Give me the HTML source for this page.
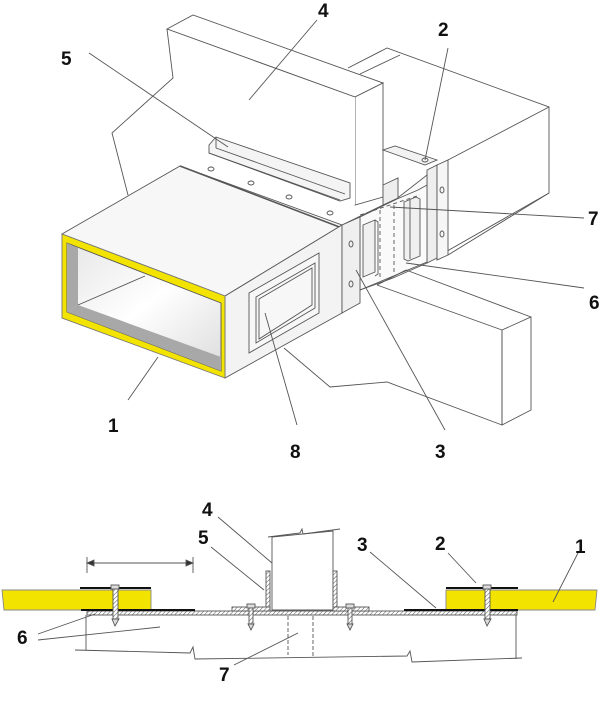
<!DOCTYPE html>
<html><head><meta charset="utf-8"><style>
html,body{margin:0;padding:0;background:#fff;}
svg{display:block;}
text{font-family:"Liberation Sans",Arial,sans-serif;font-weight:bold;font-size:19px;fill:#111;}
</style></head><body>
<svg width="606" height="712" viewBox="0 0 606 712" xmlns="http://www.w3.org/2000/svg">
<defs>
<linearGradient id="inner" x1="0" y1="0" x2="1" y2="1">
<stop offset="0" stop-color="#e6e6e6"/><stop offset="0.5" stop-color="#ffffff"/><stop offset="1" stop-color="#dcdcdc"/>
</linearGradient>
<pattern id="hatch" width="3" height="3" patternUnits="userSpaceOnUse" patternTransform="rotate(45)">
<rect width="3" height="3" fill="#fff"/><line x1="0" y1="0" x2="0" y2="3" stroke="#555" stroke-width="1"/>
</pattern>
</defs>
<g stroke="#555" stroke-width="0.9" fill="none">
<!-- upper back wall -->
<polyline points="348,68 387,48 549,107 549,193 435,258"/>
<line x1="360" y1="74" x2="400" y2="55"/>
<!-- wall 4 slab -->
<polygon points="167,29 193,15 383,83 355,97" fill="#fff"/>
<polygon points="355,97 383,83 383,197 355,205" fill="#fff"/>
<polygon points="167,29 355,97 355,205 216,150" fill="#fff" stroke="none"/>
<line x1="167" y1="29" x2="355" y2="97"/>
<polyline points="167,29 173,78 112,133 128,195"/>
<!-- angle 5 on top -->
<polygon points="216,137 350,183 350,198 340,201 209,153 209,145" fill="#f4f4f4"/>
<line x1="216" y1="137" x2="216" y2="148"/>
<line x1="216" y1="148" x2="345" y2="194"/>
<line x1="209" y1="153" x2="340" y2="200"/>
<!-- right duct section beyond wall -->
<polygon points="383,150 425,165 437,160 395,146" fill="#f2f2f2"/>
<polygon points="427,170 437,165 437,258 427,263" fill="#eee"/>
<polygon points="437,165 448,160 448,255 437,260" fill="#f6f6f6"/>
<ellipse cx="442" cy="190" rx="2" ry="3"/>
<ellipse cx="442" cy="234" rx="2" ry="3"/>
<ellipse cx="425" cy="160" rx="3" ry="2"/>
<line x1="448" y1="160" x2="549" y2="107"/>
<line x1="448" y1="255" x2="549" y2="193"/>
<!-- middle duct between -->
<polygon points="360,217 395,200 427,175 427,263 393,278 360,290" fill="#fafafa"/>
<polyline points="342,225 383,205 418,190 427,185"/>
<polygon points="383,185 398,178 398,198 383,205" fill="#eee"/>
<polygon points="363,225 375,220 375,272 363,277" fill="#f0f0f0"/>
<polyline points="375,220 378,222 378,274 375,276"/>
<polygon points="404,202 416,197 420,199 420,256 408,261 404,259" fill="#f0f0f0"/>
<line x1="410" y1="200" x2="410" y2="259"/>
<line x1="380" y1="210" x2="380" y2="278" stroke-dasharray="4,3"/>
<line x1="394" y1="205" x2="394" y2="272" stroke-dasharray="4,3"/>
<line x1="360" y1="215" x2="420" y2="195" stroke-dasharray="4,3"/>
<line x1="360" y1="290" x2="427" y2="262"/>
<!-- lower wall -->
<polyline points="377,285 406,270"/>
<line x1="377" y1="285" x2="502" y2="330"/>
<line x1="406" y1="270" x2="531" y2="317"/>
<polygon points="502,330 531,317 531,410 502,425" fill="#fff"/>
<line x1="502" y1="330" x2="502" y2="425"/>
<polyline points="284,348 330,387 387,382 502,425"/>
<!-- main box -->
<polygon points="62,234 180,166 342,225 225,296" fill="#f7f7f7"/>
<line x1="180" y1="166" x2="342" y2="228" stroke-width="1.6"/>
<polygon points="225,296 342,225 342,313 225,378" fill="#f3f3f3"/>
<polygon points="342,225 360,217 360,303 342,313" fill="#efefef"/>
<ellipse cx="351" cy="244" rx="2" ry="3"/>
<ellipse cx="351" cy="284" rx="2" ry="3"/>
<ellipse cx="211" cy="169" rx="3" ry="2"/>
<ellipse cx="251" cy="183" rx="3" ry="2"/>
<ellipse cx="289" cy="197" rx="3" ry="2"/>
<ellipse cx="330" cy="213" rx="3" ry="2"/>
<!-- door 8 -->
<polygon points="249,293 319,253 319,313 249,353" fill="#f7f7f7"/>
<polygon points="256,297 315,263 315,308 256,343"/>
<polygon points="259,299 312,268 312,305 259,339"/>
<!-- front yellow frame -->
<polygon points="62,234 225,296 225,378 62,318" fill="#f3e300" stroke="#777"/>
<polygon points="67,243 221,303 221,371 67,312" fill="url(#inner)" stroke="#555"/>
<polygon points="67,243 78,248 78,305 67,312" fill="#a8a8a8" stroke="none"/>
<polygon points="78,305 221,357 221,371 67,312" fill="#a8a8a8" stroke="none"/>
<line x1="78" y1="305" x2="145" y2="276" />
<!-- leaders -->
<line x1="317" y1="20" x2="249" y2="100"/>
<line x1="448" y1="48" x2="425" y2="160"/>
<line x1="89" y1="53" x2="228" y2="147"/>
<line x1="584" y1="218" x2="390" y2="207"/>
<line x1="584" y1="288" x2="406" y2="263"/>
<line x1="128" y1="400" x2="158" y2="357"/>
<line x1="297" y1="425" x2="265" y2="313"/>
<line x1="445" y1="430" x2="356" y2="270"/>
</g>
<text x="318" y="17">4</text>
<text x="438" y="36">2</text>
<text x="61" y="65">5</text>
<text x="588" y="225">7</text>
<text x="589" y="309">6</text>
<text x="108" y="432">1</text>
<text x="290" y="458">8</text>
<text x="435" y="458">3</text>

<!-- Bottom section -->
<g stroke="#555" stroke-width="0.9" fill="none">
<rect x="87" y="611" width="430" height="4" fill="url(#hatch)"/>
<polygon points="2,590 151,590 151,610 4,610" fill="#f3e300" stroke="#888"/>
<polygon points="446,590 597,590 595,610 446,610" fill="#f3e300" stroke="#888"/>
<line x1="80" y1="588" x2="151" y2="588" stroke="#111" stroke-width="2"/>
<line x1="81" y1="610" x2="195" y2="610" stroke="#111" stroke-width="2"/>
<line x1="446" y1="588" x2="518" y2="588" stroke="#111" stroke-width="2"/>
<line x1="404" y1="610" x2="518" y2="610" stroke="#111" stroke-width="2"/>
<!-- wall 4 -->
<polygon points="272,537 333,531 333,610 272,610" fill="#fff"/>
<polyline points="268,537 300,533 302,529 303,534 340,529"/>
<!-- angles -->
<rect x="266" y="571" width="4" height="39" fill="url(#hatch)"/>
<rect x="333" y="571" width="4" height="39" fill="url(#hatch)"/>
<rect x="232" y="607" width="38" height="4" fill="url(#hatch)"/>
<rect x="333" y="607" width="36" height="4" fill="url(#hatch)"/>
<!-- screws -->
<g fill="#ddd">
<rect x="111" y="585" width="8" height="4"/><rect x="113" y="589" width="5" height="30" fill="url(#hatch)"/><polygon points="112,619 119,619 115,626"/>
<rect x="483" y="585" width="8" height="4"/><rect x="485" y="589" width="5" height="30" fill="url(#hatch)"/><polygon points="484,619 491,619 487,626"/>
<rect x="247" y="604" width="8" height="4"/><rect x="249" y="608" width="4" height="16" fill="url(#hatch)"/><polygon points="248,624 254,624 251,630"/>
<rect x="346" y="604" width="8" height="4"/><rect x="348" y="608" width="4" height="16" fill="url(#hatch)"/><polygon points="347,624 353,624 350,630"/>
</g>
<!-- dimension -->
<line x1="87" y1="563" x2="193" y2="563"/>
<line x1="87" y1="557" x2="87" y2="573"/>
<line x1="193" y1="557" x2="193" y2="573"/>
<polygon points="87,563 94,560 94,566" fill="#333"/>
<polygon points="193,563 186,560 186,566" fill="#333"/>
<!-- dashed 7 -->
<line x1="288" y1="616" x2="288" y2="655" stroke-dasharray="4,2"/>
<line x1="313" y1="616" x2="313" y2="656" stroke-dasharray="4,2"/>
<line x1="86" y1="615" x2="86" y2="650"/>
<line x1="516" y1="615" x2="516" y2="659"/>
<polyline points="75,650 190,653 193,647 195,659 407,656 410,651 412,662 522,658"/>
<!-- leaders -->
<line x1="218" y1="517" x2="272" y2="563"/>
<line x1="211" y1="547" x2="264" y2="590"/>
<line x1="370" y1="552" x2="436" y2="608"/>
<line x1="448" y1="553" x2="476" y2="583"/>
<line x1="578" y1="553" x2="553" y2="602"/>
<line x1="38" y1="634" x2="95" y2="614"/>
<line x1="38" y1="640" x2="160" y2="627"/>
<line x1="234" y1="665" x2="298" y2="633"/>
</g>
<text x="202" y="516">4</text>
<text x="198" y="544">5</text>
<text x="357" y="551">3</text>
<text x="435" y="550">2</text>
<text x="575" y="553">1</text>
<text x="17" y="644">6</text>
<text x="219" y="681">7</text>
</svg>
</body></html>
